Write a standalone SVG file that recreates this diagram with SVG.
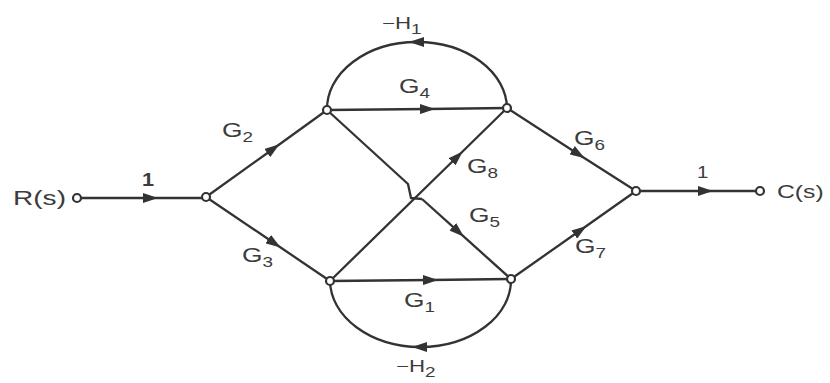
<svg xmlns="http://www.w3.org/2000/svg" width="830" height="383" viewBox="0 0 830 383">
<style>
.e{fill:none;stroke:#333;stroke-width:2.3;stroke-linejoin:round}
.a{marker-mid:url(#arr)}
.n{fill:#fff;stroke:#333;stroke-width:2.2}
.t{font-family:"Liberation Sans",Arial,sans-serif;fill:#3c3c3c}
.g{font-size:19.5px}
.s{font-size:14px}
</style>
<defs>
<marker id="arr" viewBox="0 0 15 10" refX="7" refY="5" markerWidth="15" markerHeight="10" markerUnits="userSpaceOnUse" orient="auto">
<path d="M0,0 L15,5 L0,10 z" fill="#333"/>
</marker>
</defs>
<rect width="830" height="383" fill="#fff"/>
<g id="connectors">
<path class="e a" d="M77,198 L150,198 L206,198"/>
<path class="e a" d="M206,197 L273,149 L327,110"/>
<path class="e a" d="M206,197 L274,243 L330,281"/>
<path class="e a" d="M327,110 L427,109 L507,108"/>
<path class="e a" d="M330,281 L430,280 L511,279"/>
<path class="e a" d="M330,281 L457,157 L507,108"/>
<path class="e" d="M327,110 L408,184 L411,198 L422,199"/>
<path class="e a" d="M422,199 L458,231.4 L511,279"/>
<path class="e a" d="M507,108 L578,154 L636,191"/>
<path class="e a" d="M511,279 L580,230.5 L636,191"/>
<path class="e a" d="M636,191 L705,191 L760,191"/>
<path class="e a" d="M507,108 A90 67 0 0 0 417,42 A90 67 0 0 0 327,110"/>
<path class="e a" d="M511,279 A91 67 0 0 1 420,347 A91 67 0 0 1 330,281"/>
</g>
<g id="node-R"><circle class="n" cx="77" cy="198" r="4"/><text class="t" font-size="20.5" transform="translate(13,205) scale(1.37,1)">R(s)</text></g>
<g id="node-A"><circle class="n" cx="206" cy="197" r="4"/></g>
<g id="node-B"><circle class="n" cx="327" cy="110" r="4"/></g>
<g id="node-C"><circle class="n" cx="507" cy="108" r="4"/></g>
<g id="node-D"><circle class="n" cx="330" cy="281" r="4"/></g>
<g id="node-E"><circle class="n" cx="511" cy="279" r="4"/></g>
<g id="node-F"><circle class="n" cx="636" cy="191" r="4"/></g>
<g id="node-Cs"><circle class="n" cx="760" cy="191" r="4"/><text class="t" font-size="19" transform="translate(777,198) scale(1.3,1)">C(s)</text></g>
<g id="labels">
<text class="t" font-size="18" font-weight="bold" transform="translate(142,186) scale(1.2,1)">1</text>
<text class="t" font-size="17" transform="translate(697,178) scale(1.2,1)">1</text>
<text class="t g" transform="translate(222,137) scale(1.35,1)">G<tspan class="s" dy="5">2</tspan></text>
<text class="t g" transform="translate(242,262) scale(1.35,1)">G<tspan class="s" dy="5">3</tspan></text>
<text class="t g" transform="translate(399,93) scale(1.35,1)">G<tspan class="s" dy="5">4</tspan></text>
<text class="t g" transform="translate(467,173) scale(1.35,1)">G<tspan class="s" dy="5">8</tspan></text>
<text class="t g" transform="translate(469,222) scale(1.35,1)">G<tspan class="s" dy="5">5</tspan></text>
<text class="t g" transform="translate(574,145) scale(1.35,1)">G<tspan class="s" dy="5">6</tspan></text>
<text class="t g" transform="translate(575,253) scale(1.35,1)">G<tspan class="s" dy="5">7</tspan></text>
<text class="t g" transform="translate(404,307) scale(1.35,1)">G<tspan class="s" dy="5">1</tspan></text>
<text class="t" font-size="16.5" transform="translate(382,29) scale(1.35,1)">−H<tspan class="s" dy="5">1</tspan></text>
<text class="t" font-size="16.5" transform="translate(396,372) scale(1.35,1)">−H<tspan class="s" dy="5">2</tspan></text>
</g>
</svg>
